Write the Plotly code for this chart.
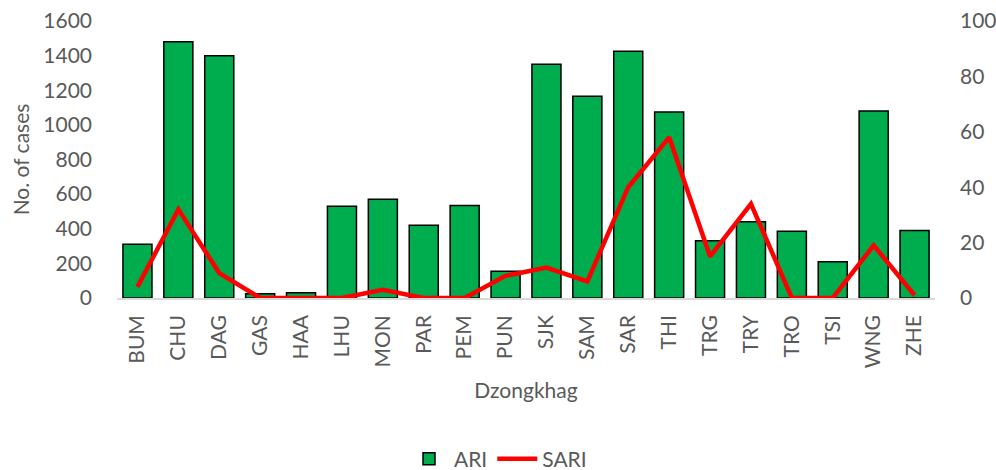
import plotly.graph_objects as go

categories = ["BUM", "CHU", "DAG", "GAS", "HAA", "LHU", "MON", "PAR", "PEM", "PUN",
              "SJK", "SAM", "SAR", "THI", "TRG", "TRY", "TRO", "TSI", "WNG", "ZHE"]
ari = [310, 1480, 1400, 25, 30, 530, 570, 420, 535, 155,
       1350, 1165, 1425, 1075, 330, 440, 385, 210, 1080, 390]
sari = [4, 32, 9, 0, 0, 0, 3, 0, 0, 8,
        11, 6, 40, 58, 15, 34, 0, 0, 19, 1]
left_ticks = [0, 200, 400, 600, 800, 1000, 1200, 1400, 1600]
right_ticks = [0, 20, 40, 60, 80, 100]

FONT = "Lato, 'Open Sans', sans-serif"
GREY = "#595959"
FS = 21

fig = go.Figure()
fig.add_trace(go.Bar(
    x=categories, y=ari, name="ARI",
    marker=dict(color="#00AD4E", line=dict(color="black", width=1.5)),
    yaxis="y",
))
fig.add_trace(go.Scatter(
    x=categories, y=sari, name="SARI", mode="lines",
    line=dict(color="#FF0000", width=4.5),
    yaxis="y2",
))

fig.update_layout(
    width=996, height=470,
    margin=dict(l=117, r=61, t=21, b=172, autoexpand=False),
    plot_bgcolor="white", paper_bgcolor="white",
    font=dict(family=FONT, size=FS, color=GREY),
    bargap=0.29,
    showlegend=True,
    legend=dict(orientation="h", x=0.5, xanchor="center", xref="container",
                y=1 - 459 / 470, yanchor="middle", yref="container",
                font=dict(size=FS, color=GREY), traceorder="normal",
                itemwidth=40),
    xaxis=dict(
        tickangle=-90, showgrid=False, showline=True, linecolor="#D9D9D9", linewidth=1.5,
        ticks="", automargin=False, ticklabelstandoff=7,
        title=dict(text="Dzongkhag", font=dict(size=FS, color=GREY), standoff=16),
        tickfont=dict(size=FS, color=GREY),
    ),
    yaxis=dict(
        range=[0, 1600], tickvals=left_ticks, showgrid=False, zeroline=False,
        showline=False, ticks="", automargin=False, ticklabelstandoff=24,
        tickfont=dict(size=FS, color=GREY),
        title=dict(text="No. of cases", font=dict(size=FS, color=GREY), standoff=7),
    ),
    yaxis2=dict(
        range=[0, 100], tickvals=right_ticks, overlaying="y", side="right",
        showgrid=False, zeroline=False, showline=False, ticks="", automargin=False,
        ticklabelstandoff=24,
        tickfont=dict(size=FS, color=GREY),
    ),
)

fig.write_html("out.html", config={"displayModeBar": False},
               post_script="document.body.style.margin='0';")
